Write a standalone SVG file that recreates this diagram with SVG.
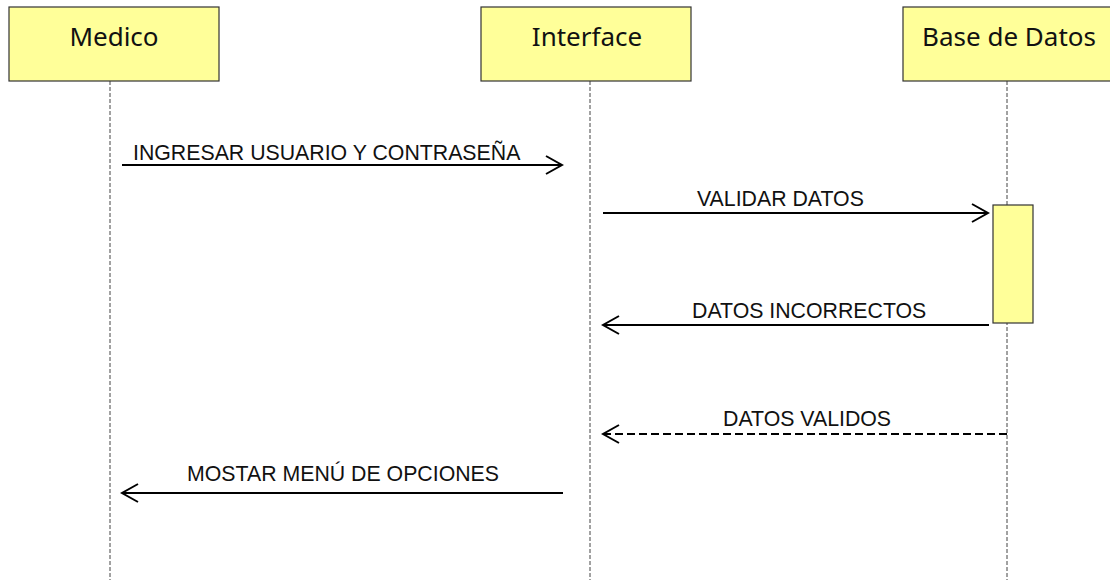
<svg xmlns="http://www.w3.org/2000/svg" width="1110" height="580" viewBox="0 0 1110 580">
<defs>
<style>
.box{fill:#FFFF99;stroke:#333;stroke-width:1.2}
.life{stroke:#444;stroke-width:1;stroke-dasharray:4,2;fill:none}
.title{font-family:"Noto Sans","Open Sans",sans-serif;font-size:26px;fill:#111;text-anchor:middle}
.lbl{font-family:"Liberation Sans",Arial,sans-serif;font-size:21.3px;fill:#111}
.msg{stroke:#000;stroke-width:2;fill:none}
.dash{stroke-dasharray:8,4}
</style>
<marker id="open" viewBox="0 0 20 20" refX="18" refY="10" markerWidth="20" markerHeight="20" markerUnits="userSpaceOnUse" orient="auto">
<path d="M2,1 L18,10 L2,19" fill="none" stroke="#000" stroke-width="2"/>
</marker>
</defs>
<rect width="1110" height="580" fill="#fff"/>
<g id="medico">
<line class="life" x1="110" y1="81" x2="110" y2="580"/>
<rect class="box" x="9" y="7" width="210" height="74"/>
<text class="title" x="114" y="46">Medico</text>
</g>
<g id="interface">
<line class="life" x1="590" y1="81" x2="590" y2="580"/>
<rect class="box" x="481" y="7" width="210" height="74"/>
<text class="title" x="587" y="46">Interface</text>
</g>
<g id="base-de-datos">
<line class="life" x1="1007" y1="81" x2="1007" y2="580"/>
<rect class="box" x="903" y="7" width="212" height="74"/>
<text class="title" x="1009" y="46">Base de Datos</text>
</g>
<g id="activation">
<rect class="box" x="993" y="205" width="40" height="118"/>
</g>
<g id="connectors">
<line class="msg" x1="122" y1="165" x2="562" y2="165" marker-end="url(#open)"/>
<text class="lbl" x="133" y="160">INGRESAR USUARIO Y CONTRASEÑA</text>
<line class="msg" x1="603" y1="213" x2="988" y2="213" marker-end="url(#open)"/>
<text class="lbl" x="697" y="206">VALIDAR DATOS</text>
<line class="msg" x1="989" y1="325" x2="603" y2="325" marker-end="url(#open)"/>
<text class="lbl" x="692" y="318">DATOS INCORRECTOS</text>
<line class="msg dash" x1="1007" y1="434" x2="603" y2="434" marker-end="url(#open)"/>
<text class="lbl" x="723" y="426">DATOS VALIDOS</text>
<line class="msg" x1="563" y1="493" x2="122" y2="493" marker-end="url(#open)"/>
<text class="lbl" x="187" y="481">MOSTAR MENÚ DE OPCIONES</text>
</g>
</svg>
